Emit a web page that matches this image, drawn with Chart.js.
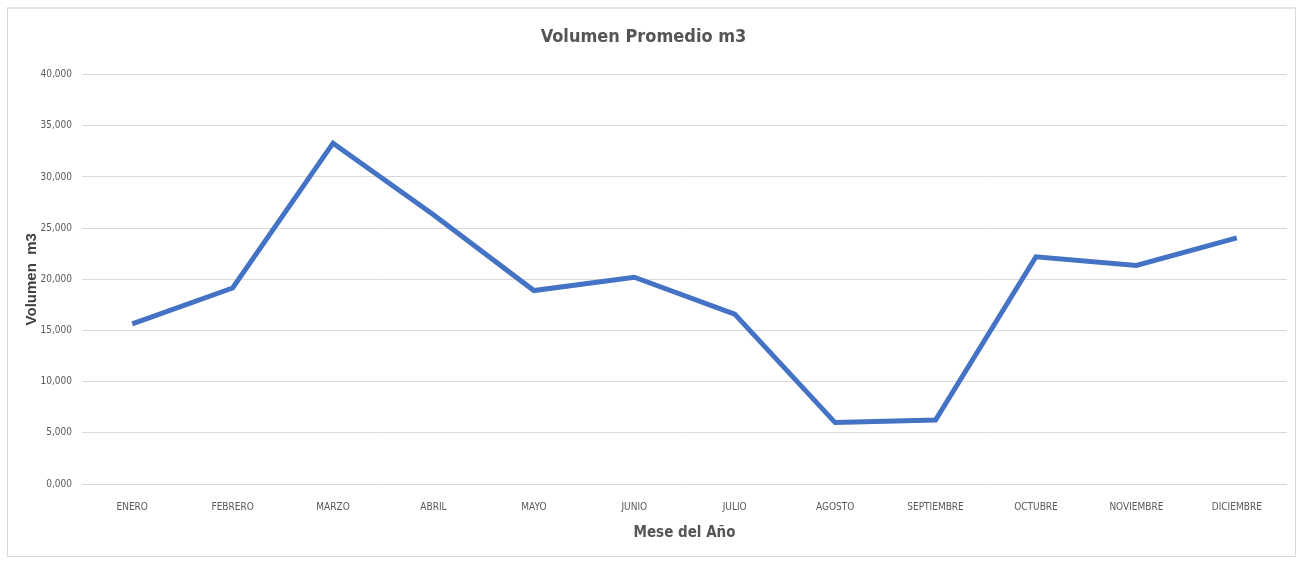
<!DOCTYPE html>
<html>
<head>
<meta charset="utf-8">
<script src="https://cdn.jsdelivr.net/npm/chart.js@4"></script>
<style>
	body { margin: 0; background: #fff; overflow: hidden; }
	#frame {
		position: absolute; left: 7px; top: 7px; width: 1289px; height: 550px;
		border: 1px solid #d9d9d9; border-top: 2px solid #e3e3e3; box-sizing: border-box;
	}
	#chart { position: absolute; left: 0; top: 0; }
</style>
</head>
<body>
<div id="frame"></div>
<canvas id="chart" width="1302" height="561"></canvas>
<script>
// months and average volume (m3)
const months = ['ENERO', 'FEBRERO', 'MARZO', 'ABRIL', 'MAYO', 'JUNIO', 'JULIO', 'AGOSTO', 'SEPTIEMBRE', 'OCTUBRE', 'NOVIEMBRE', 'DICIEMBRE'];
const volumen = [15650, 19150, 33300, 26300, 18900, 20200, 16600, 6000, 6250, 22200, 21350, 24050];
const yTicks = ['0,000', '5,000', '10,000', '15,000', '20,000', '25,000', '30,000', '35,000', '40,000'];

const narrow = "'Liberation Sans Narrow', 'DejaVu Sans Condensed', sans-serif";

new Chart(document.getElementById('chart'), {
	type: 'line',
	data: {
		labels: months,
		datasets: [{
			data: volumen,
			borderColor: '#4472c4',
			borderWidth: 5,
			pointRadius: 0,
			tension: 0,
			fill: false
		}]
	},
	options: {
		responsive: false,
		animation: false,
		layout: { padding: { left: 0, right: 15, top: 0, bottom: 0 } },
		plugins: {
			legend: { display: false },
			tooltip: { enabled: false },
			title: {
				display: true,
				text: 'Volumen Promedio m3',
				color: '#555555',
				font: { family: narrow, size: 18, weight: 'bold' },
				padding: { top: 27, bottom: 26 }
			}
		},
		scales: {
			x: {
				offset: true,
				grid: { display: false, drawTicks: false },
				border: { display: false },
				ticks: {
					color: '#595959',
					font: { family: narrow, size: 10 },
					padding: 17,
					maxRotation: 0,
					autoSkip: false
				},
				title: {
					display: true,
					text: 'Mese del Año',
					color: '#555555',
					font: { family: narrow, size: 15, weight: 'bold' },
					padding: { top: 0, bottom: 19 }
				},
				afterFit: (scale) => { scale.height = 77; }
			},
			y: {
				min: 0,
				max: 40000,
				grid: { color: '#d9d9d9', lineWidth: 1, drawTicks: false },
				border: { display: false },
				ticks: {
					stepSize: 5000,
					color: '#595959',
					font: { family: narrow, size: 10 },
					padding: 10,
					callback: (v) => yTicks[v / 5000]
				},
				title: {
					display: true,
					text: 'Volumen  m3',
					color: '#404040',
					font: { family: "'Liberation Sans', Arial, sans-serif", size: 15, weight: 'bold' },
					padding: { top: 23, bottom: 0 }
				},
				afterFit: (scale) => { scale.width = 82; }
			}
		}
	}
});
</script>
</body>
</html>
